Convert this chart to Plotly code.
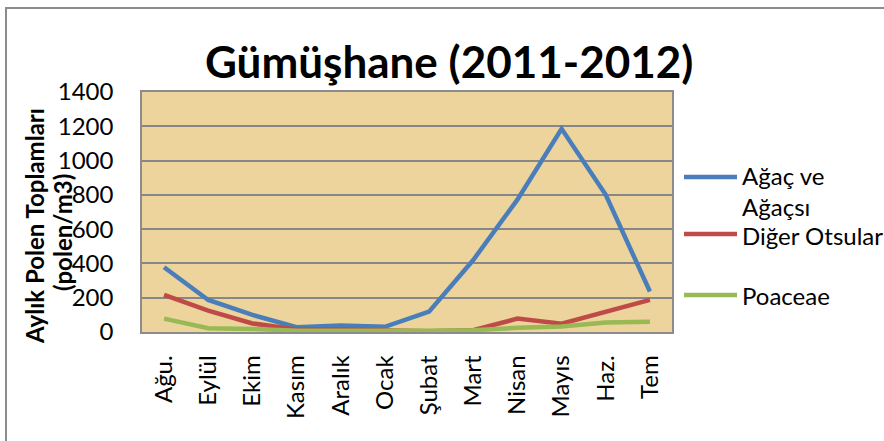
import plotly.graph_objects as go

# Monthly pollen totals, Gümüşhane, Aug 2011 - Jul 2012
months = ["Ağu.", "Eylül", "Ekim", "Kasım", "Aralık", "Ocak",
          "Şubat", "Mart", "Nisan", "Mayıs", "Haz.", "Tem"]
agac = [378, 187, 100, 28, 38, 30, 119, 420, 772, 1185, 800, 236]
diger = [216, 125, 50, 15, 15, 8, 5, 10, 78, 48, 120, 187]
poaceae = [78, 22, 18, 8, 8, 5, 8, 10, 25, 32, 55, 60]

series = [
    ("Ağaç ve<br>Ağaçsı", agac, "#4A7EBB"),
    ("Diğer Otsular", diger, "#BE4B48"),
    ("Poaceae", poaceae, "#98B954"),
]

FONT = "Lato"

fig = go.Figure()
for name, vals, color in series:
    fig.add_trace(go.Scatter(
        x=months, y=vals, mode="lines", name=name,
        line=dict(color=color, width=4.5), showlegend=False,
    ))

# plot area in pixels: x 142..672, y 92..332
L, R, T, B = 142, 672, 92, 332
W, H = R - L, B - T


def px(xp):
    return (xp - L) / W


def py(yp):
    return (B - yp) / H


fig.update_layout(
    width=884, height=441,
    margin=dict(l=L, r=884 - R, t=T, b=441 - B),
    paper_bgcolor="white",
    plot_bgcolor="#ECD49C",
    font=dict(family=FONT, color="black"),
    xaxis=dict(
        type="category", range=[-0.5, len(months) - 0.5],
        tickangle=-90, tickfont=dict(size=24, family=FONT),
        showgrid=False, showline=True, linecolor="#8C8C8C", linewidth=1.5,
        mirror=True, ticks="", ticklabelstandoff=12,
    ),
    yaxis=dict(
        range=[0, 1400], tickvals=list(range(0, 1401, 200)),
        tickfont=dict(size=24, family=FONT),
        showgrid=True, gridcolor="#878787", gridwidth=1.5,
        showline=True, linecolor="#8C8C8C", linewidth=1.5, mirror=True,
        zeroline=False, ticks="", ticklabelstandoff=22,
    ),
)

# chart frame
fig.add_shape(type="rect", xref="paper", yref="paper",
              x0=px(6), x1=px(900), y0=py(460), y1=py(8),
              line=dict(color="#8C8C8C", width=2), layer="below")

# title
fig.add_annotation(text="<b>Gümüşhane (2011-2012)</b>", xref="paper", yref="paper",
                   x=px(449), y=py(61), showarrow=False,
                   xanchor="center", yanchor="middle",
                   font=dict(size=44, family=FONT, color="black"))

# y-axis title (two rotated lines)
fig.add_annotation(text="<b>Aylık Polen Toplamları</b>", xref="paper", yref="paper",
                   x=px(34), y=py(226), textangle=-90, showarrow=False,
                   xanchor="center", yanchor="middle",
                   font=dict(size=24, family=FONT, color="black"))
fig.add_annotation(text="<b>(polen/m3)</b>", xref="paper", yref="paper",
                   x=px(62), y=py(233), textangle=-90, showarrow=False,
                   xanchor="center", yanchor="middle",
                   font=dict(size=24, family=FONT, color="black"))

# legend
legend_rows = [(177, "Ağaç ve<br>Ağaçsı", 191), (234, "Diğer Otsular", 235), (295, "Poaceae", 295)]
for (ly, text, ty), (_, _, color) in zip(legend_rows, series):
    fig.add_shape(type="line", xref="paper", yref="paper",
                  x0=px(684), x1=px(737), y0=py(ly), y1=py(ly),
                  line=dict(color=color, width=4.5))
    fig.add_annotation(text=text, xref="paper", yref="paper",
                       x=px(740), y=py(ty), showarrow=False,
                       xanchor="left", yanchor="middle", align="left",
                       font=dict(size=24, family=FONT, color="black"))

fig.write_html("out.html")
